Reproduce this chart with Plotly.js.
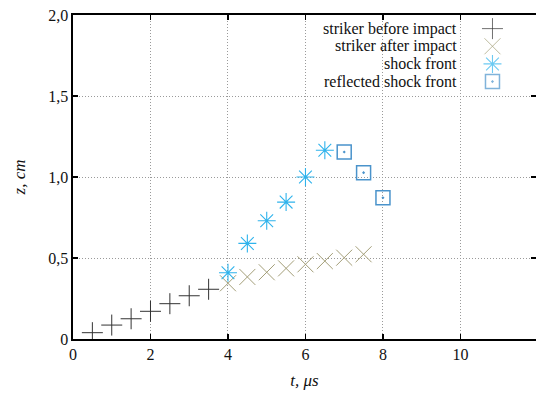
<!DOCTYPE html>
<html><head><meta charset="utf-8">
<script src="https://cdn.plot.ly/plotly-3.0.1.min.js"></script>
<style>html,body{margin:0;padding:0;background:#fff}#c{width:536px;height:394px}</style>
</head><body><div id="c"></div>
<script>
const beforeT = [0.5, 1.0, 1.5, 2.0, 2.5, 3.0, 3.5];
const beforeZ = [0.039, 0.086, 0.125, 0.171, 0.218, 0.267, 0.307];
const afterT = [4.0, 4.5, 5.0, 5.5, 6.0, 6.5, 7.0, 7.5];
const afterZ = [0.344, 0.383, 0.412, 0.436, 0.461, 0.481, 0.502, 0.523];
const shockT = [4.0, 4.5, 5.0, 5.5, 6.0, 6.5];
const shockZ = [0.409, 0.59, 0.73, 0.845, 1.0, 1.165];
const reflT = [7.0, 7.5, 8.0];
const reflZ = [1.154, 1.027, 0.872];
const seriesNames = ["striker before impact", "striker after impact", "shock front", "reflected shock front"];
const xTicks = [0, 2, 4, 6, 8, 10];
const yTicks = [0, 0.5, 1.0, 1.5, 2.0];
const yTickText = ["0", "0,5", "1,0", "1,5", "2,0"];

const FONT = "Liberation Serif";
const TXT = "#111";
const styles = [
  {symbol: "cross-thin-open", size: 15, color: "#333333", width: 1},
  {symbol: "x-thin-open", size: 16, color: "#a39e78", width: 1},
  {symbol: "asterisk-open", size: 15, color: "#2fb3ec", width: 1.1},
  {symbol: "square-open-dot", size: 14, color: "#4a93cb", width: 1.5}
];
const data = [[beforeT, beforeZ], [afterT, afterZ], [shockT, shockZ], [reflT, reflZ]];
const traces = data.map((d, i) => ({
  x: d[0], y: d[1], type: "scatter", mode: "markers", showlegend: false,
  marker: {symbol: styles[i].symbol, size: styles[i].size, color: styles[i].color,
    line: {color: styles[i].color, width: styles[i].width}},
  hoverinfo: "skip"
}));
// legend key (layout positions in overlay axis)
const legX = 0.906, legY0 = 0.958, legDY = 0.0545;
traces.push({
  x: seriesNames.map(() => legX), y: seriesNames.map((_, i) => legY0 - i * legDY),
  xaxis: "x2", yaxis: "y2", type: "scatter", mode: "markers", showlegend: false, hoverinfo: "skip",
  marker: {symbol: styles.map(s => s.symbol), size: styles.map(s => s.size), color: styles.map(s => s.color),
    line: {color: styles.map(s => s.color), width: styles.map(s => s.width)}}
});
const annotations = seriesNames.map((n, i) => ({
  xref: "paper", yref: "paper", x: 0.834, y: legY0 - i * legDY, xanchor: "right", yanchor: "middle",
  text: n, showarrow: false, font: {family: FONT, size: 16, color: TXT}
}));

const axisCommon = {
  showline: true, linecolor: "#000", linewidth: 1.6, mirror: "ticks",
  ticks: "inside", ticklen: 5, tickwidth: 1.5, tickcolor: "#000",
  showgrid: true, gridcolor: "#9a9a9a", griddash: "1px,2px", gridwidth: 1,
  zeroline: false, tickfont: {family: FONT, size: 16, color: TXT}
};
const layout = {
  width: 536, height: 394, margin: {l: 73, r: 0, t: 15, b: 55},
  paper_bgcolor: "#fff", plot_bgcolor: "#fff", showlegend: false,
  font: {family: FONT, color: TXT},
  xaxis: Object.assign({}, axisCommon, {range: [0, 11.95], tickvals: xTicks, ticktext: xTicks.map(String),
    title: {text: "<i>t, μs</i>", font: {family: FONT, size: 17, color: TXT}, standoff: 12}}),
  yaxis: Object.assign({}, axisCommon, {range: [0, 2.0], tickvals: yTicks, ticktext: yTickText,
    title: {text: "<i>z, cm</i>", font: {family: FONT, size: 17, color: TXT}, standoff: 18}}),
  xaxis2: {overlaying: "x", range: [0, 1], visible: false, fixedrange: true},
  yaxis2: {overlaying: "y", range: [0, 1], visible: false, fixedrange: true},
  annotations: annotations
};
Plotly.newPlot("c", traces, layout, {staticPlot: true, displayModeBar: false});
</script></body></html>
